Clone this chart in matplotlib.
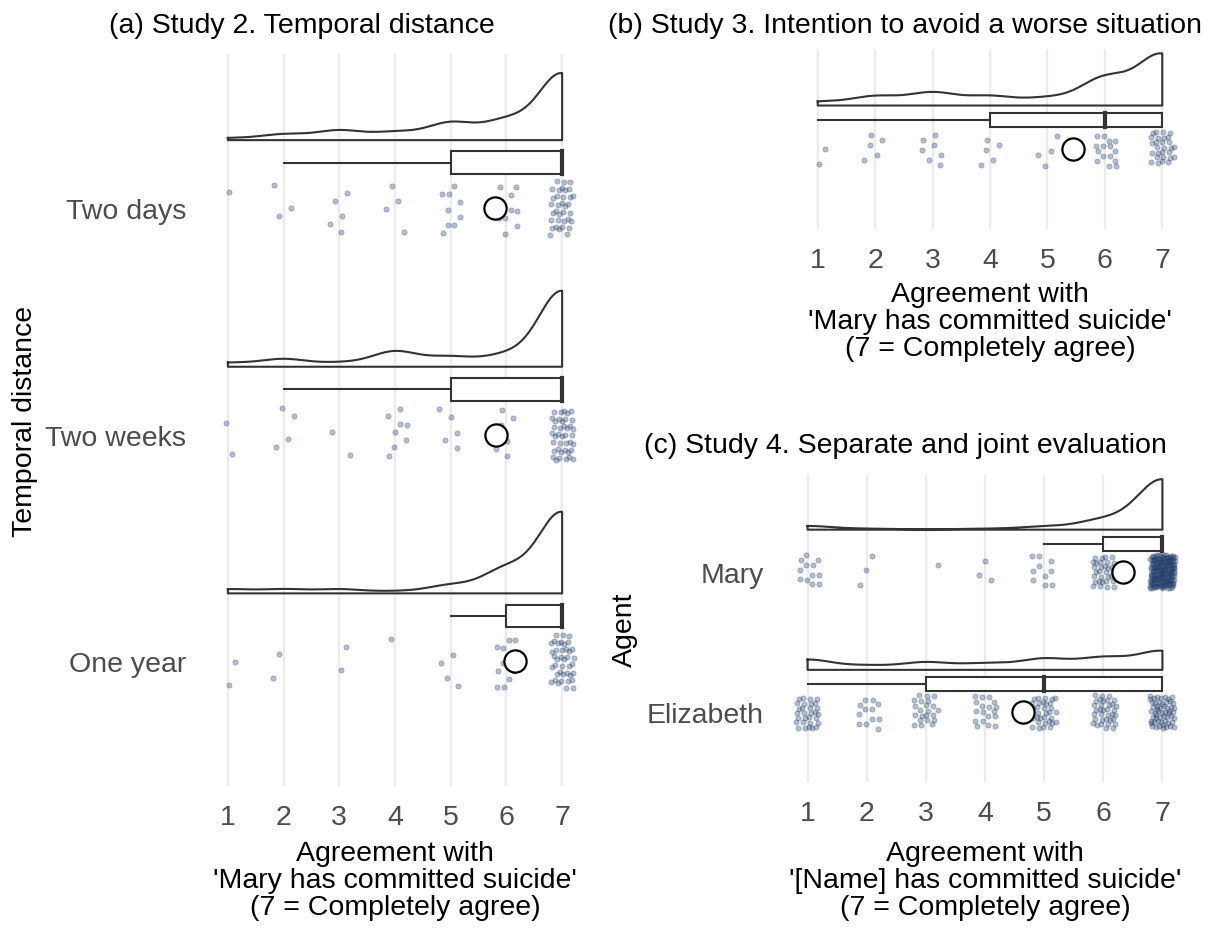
import numpy as np
import matplotlib.pyplot as plt
from matplotlib.patches import Rectangle

plt.rcParams['font.family'] = ['Liberation Sans', 'DejaVu Sans']
plt.rcParams['font.size'] = 20.5

# answer levels (1 = completely disagree ... 7 = completely agree)
levels = [1, 2, 3, 4, 5, 6, 7]

# number of participants at each level
two_days = [1, 3, 5, 4, 9, 10, 35]
two_weeks = [2, 4, 2, 8, 5, 6, 40]
one_year = [2, 2, 2, 1, 4, 12, 40]

study3 = [2, 5, 7, 5, 4, 15, 28]

mary = [12, 3, 1, 3, 10, 32, 165]
elizabeth = [30, 12, 22, 18, 32, 35, 55]

s2_labels = ['One year', 'Two weeks', 'Two days']
s4_labels = ['Elizabeth', 'Mary']

W, H = 1211, 929
LINE = '#333333'
DOT = '#1f3a68'
TICK = '#4d4d4d'
GRID = '#ebebeb'
BW = 0.42


def expand(counts):
    return np.repeat(levels, counts).astype(float)


def density(x):
    grid = np.linspace(x.min(), x.max(), 512)
    d = np.exp(-0.5 * ((grid[:, None] - x[None, :]) / BW) ** 2).sum(1)
    d /= len(x) * BW * np.sqrt(2 * np.pi)
    return grid, d


def box_stats(x):
    q1, med, q3 = np.percentile(x, [25, 50, 75])
    iqr = q3 - q1
    lo = x[x >= q1 - 1.5 * iqr].min()
    hi = x[x <= q3 + 1.5 * iqr].max()
    return lo, q1, med, q3, hi


def jitter(n, start):
    # quasi-random (R2 sequence) offsets, deterministic
    i = np.arange(start, start + n)
    jx = (0.5 + i * 0.7548776662) % 1
    jy = (0.5 + i * 0.5698402910) % 1
    return (jx - 0.5) * 0.42, (jy - 0.5) * 0.24


def add_ax(left, right, top, bottom):
    return fig.add_axes([left / W, 1 - bottom / H, (right - left) / W, (bottom - top) / H])


def raincloud(ax, groups, ylim, vmax=0.36):
    data = [expand(c) for c in groups]
    dens = [density(x) for x in data]
    dmax = max(d.max() for _, d in dens)
    for k, (x, (g, d)) in enumerate(zip(data, dens)):
        y = k + 1
        # flat violin
        base = y + 0.3
        top = base + d / dmax * vmax
        px = np.concatenate([g, [g[-1], g[0], g[0]]])
        py = np.concatenate([top, [base, base, top[0]]])
        ax.plot(px, py, color=LINE, lw=1.5, solid_joinstyle='round', zorder=3)
        # box
        lo, q1, med, q3, hi = box_stats(x)
        by = y + 0.2
        ax.add_patch(Rectangle((q1, by - 0.05), q3 - q1, 0.1, fc='white',
                               ec=LINE, lw=1.5, zorder=3))
        ax.plot([lo, q1], [by, by], color=LINE, lw=1.5, zorder=3)
        ax.plot([q3, hi], [by, by], color=LINE, lw=1.5, zorder=3)
        ax.plot([med, med], [by - 0.05, by + 0.05], color=LINE, lw=3, zorder=4)
        # dots
        jx, jy = jitter(len(x), 7 + 131 * k)
        ax.scatter(x + jx, y + jy, s=14, color=DOT, alpha=0.33, lw=0.6, zorder=2)
        # mean
        ax.plot(x.mean(), y, 'o', ms=16, mfc='white', mec='black', mew=1.6, zorder=5)

    ax.set_xlim(0.5, 7.5)
    ax.set_ylim(*ylim)
    ax.set_xticks(levels)
    for v in levels:
        ax.axvline(v, color=GRID, lw=1.6, zorder=0)
    for s in ax.spines.values():
        s.set_visible(False)
    ax.tick_params(length=0, labelcolor=TICK, labelsize=20.5, pad=13)
    ax.tick_params(axis='y', pad=10)


fig = plt.figure(figsize=(W / 100, H / 100), dpi=100)

xlab = "Agreement with\n'{} has committed suicide'\n(7 = Completely agree)"

# (a) Study 2
ax_a = add_ax(200, 590, 55, 787)
raincloud(ax_a, [one_year, two_weeks, two_days], (0.45, 3.68))
ax_a.set_yticks([1, 2, 3], s2_labels)
fig.text(302 / W, 1 - 26 / H, '(a) Study 2. Temporal distance', ha='center', va='center')
fig.text(25 / W, 1 - 421 / H, 'Temporal distance', rotation=90, ha='center', va='center')
fig.text(395 / W, 1 - 881 / H, xlab.format('Mary'),
         ha='center', va='center', linespacing=1.05)

# (b) Study 3
ax_b = add_ax(789, 1191, 50, 230)
raincloud(ax_b, [study3], (1 - 80 / 145, 1.69))
ax_b.set_yticks([])
fig.text(905 / W, 1 - 26 / H, '(b) Study 3. Intention to avoid a worse situation',
         ha='center', va='center')
fig.text(990 / W, 1 - 322 / H, xlab.format('Mary'),
         ha='center', va='center', linespacing=1.05)

# (c) Study 4
ax_c = add_ax(778, 1192, 476, 783)
raincloud(ax_c, [elizabeth, mary], (0.5, 2.69))
ax_c.set_yticks([1, 2], s4_labels)
fig.text(905 / W, 1 - 446 / H, '(c) Study 4. Separate and joint evaluation',
         ha='center', va='center')
fig.text(625 / W, 1 - 630 / H, 'Agent', rotation=90, ha='center', va='center')
fig.text(985 / W, 1 - 881 / H, xlab.format('[Name]'),
         ha='center', va='center', linespacing=1.05)

fig.savefig('out.png', dpi=100, facecolor='white')
